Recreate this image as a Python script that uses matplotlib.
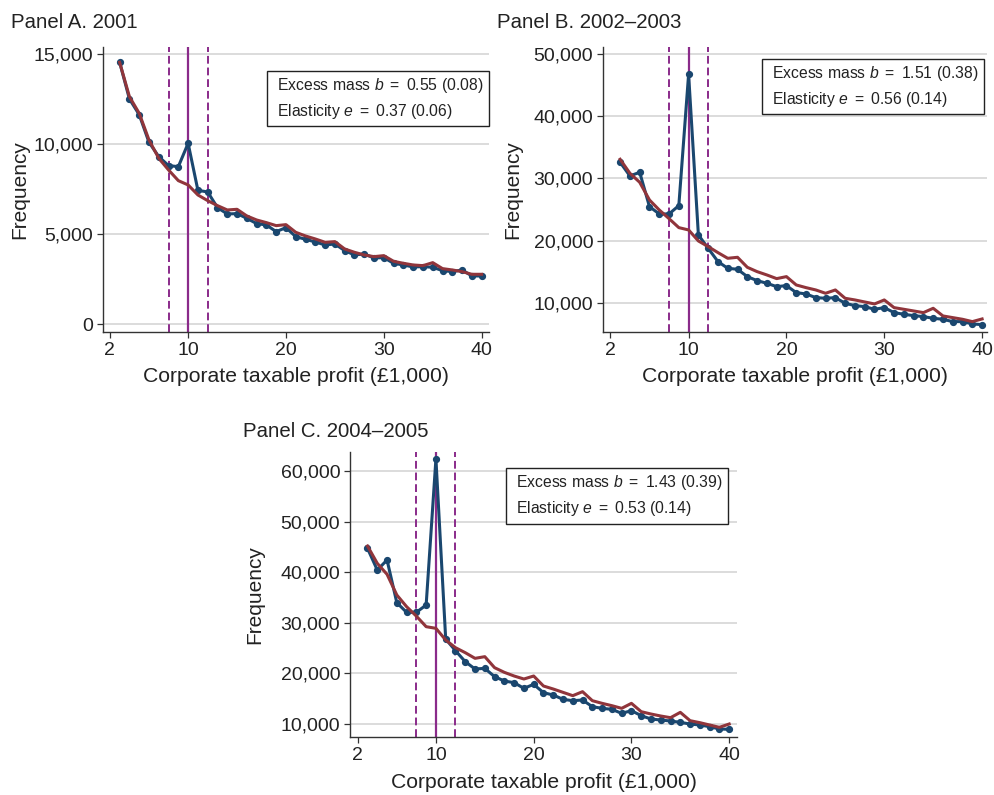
import numpy as np
import matplotlib
matplotlib.use("Agg")
import matplotlib.pyplot as plt
from matplotlib.patches import Rectangle
from matplotlib.ticker import FuncFormatter

plt.rcParams['font.family'] = ['Liberation Sans', 'DejaVu Sans']
plt.rcParams['mathtext.fontset'] = 'custom'
plt.rcParams['mathtext.rm'] = 'Liberation Sans'
plt.rcParams['mathtext.it'] = 'Liberation Sans:italic'

# profit bins (£1,000)
profit = list(range(3, 41))

# Panel A. 2001
freq_a = [14556, 12519, 11648, 10111, 9315, 8815, 8759, 10056, 7444, 7352,
          6481, 6130, 6148, 5889, 5593, 5519, 5148, 5370, 4870, 4722,
          4574, 4407, 4463, 4093, 3852, 3907, 3685, 3704, 3389, 3296,
          3185, 3204, 3167, 2981, 2926, 3019, 2685, 2685]
cf_a = [14556, 12648, 11722, 10241, 9222, 8574, 7981, 7741, 7185, 6870,
        6593, 6352, 6389, 6019, 5796, 5648, 5481, 5537, 5111, 4907,
        4741, 4556, 4593, 4185, 4000, 3852, 3759, 3815, 3500, 3389,
        3296, 3259, 3426, 3093, 3019, 2926, 2778, 2778]

# Panel B. 2002-2003
freq_b = [32604, 30403, 30993, 25463, 24282, 24282, 25624, 46779, 20899, 18752,
          16604, 15530, 15369, 14188, 13544, 13114, 12577, 12738, 11611, 11396,
          10805, 10698, 10805, 9893, 9517, 9356, 8926, 9195, 8389, 8121,
          7906, 7745, 7477, 7315, 6940, 6940, 6564, 6456]
cf_b = [33087, 30832, 29383, 26537, 24926, 23530, 22081, 21705, 19933, 19020,
        18054, 17141, 17302, 15691, 14993, 14456, 13866, 14188, 12846, 12416,
        12040, 11503, 12040, 10698, 10430, 10107, 9785, 10430, 9195, 8926,
        8658, 8389, 9087, 7852, 7584, 7315, 6940, 7369]

# Panel C. 2004-2005
freq_c = [44717, 40434, 42411, 33978, 32068, 32068, 33518, 62372, 26797, 24491,
          22318, 20868, 21000, 19353, 18497, 18168, 17048, 17838, 16191, 15730,
          14874, 14611, 14742, 13424, 13095, 12898, 12107, 12634, 11646, 10987,
          10790, 10593, 10329, 10000, 9802, 9473, 9012, 8946]
cf_c = [45178, 41752, 39578, 35494, 33188, 31318, 29233, 28906, 26600, 25085,
        24097, 22977, 23306, 21132, 20209, 19485, 18893, 19485, 17509, 16916,
        16257, 15598, 16389, 14611, 14084, 13622, 13095, 14084, 12436, 11975,
        11580, 11250, 12305, 10658, 10263, 9802, 9341, 10000]

titles = ["Panel A. 2001", "Panel B. 2002\u20132003", "Panel C. 2004\u20132005"]
excess = [("0.55", "0.08"), ("1.51", "0.38"), ("1.43", "0.39")]
elast = [("0.37", "0.06"), ("0.56", "0.14"), ("0.53", "0.14")]
yticks = [[0, 5000, 10000, 15000],
          [10000, 20000, 30000, 40000, 50000],
          [10000, 20000, 30000, 40000, 50000, 60000]]
xticks = [2, 10, 20, 30, 40]
kink = 10
band = (8, 12)

W, H = 994, 795
BLUE = "#1a476f"
RED = "#90353b"
PURPLE = "#8a2b8a"
TXT = "#222222"

fig = plt.figure(figsize=(W / 100, H / 100), dpi=100)


def fx(px):
    return px / W


def fy(py):
    return 1 - py / H


# layout in pixels: (left, top, right, bottom), ylim, xlim, title pos, ylabel x, box
layout = [
    dict(box=(103, 47, 489, 332), ylim=(-428, 15406), xlim=(1.3, 40.75),
         title=(11, 28), ylab=20, lbox=(267, 71, 489, 126)),
    dict(box=(603, 47, 987, 332), ylim=(5267, 51176), xlim=(1.25, 40.5),
         title=(497, 28), ylab=513, lbox=(762, 59, 984, 114)),
    dict(box=(350, 452, 737, 737), ylim=(7431, 63755), xlim=(1.21, 40.8),
         title=(243, 437), ylab=255, lbox=(506, 468, 728, 524)),
]
series = [(freq_a, cf_a), (freq_b, cf_b), (freq_c, cf_c)]

for i, lay in enumerate(layout):
    l, t, r, b = lay["box"]
    ax = fig.add_axes([fx(l), fy(b), fx(r - l), (b - t) / H])
    obs, cf = series[i]

    ax.axvline(kink, color=PURPLE, lw=1.6, zorder=2)
    for v in band:
        ax.axvline(v, color=PURPLE, lw=1.4, ls=(0, (4, 2)), zorder=2)
    ax.plot(profit, obs, color=BLUE, lw=2.2, marker="o", ms=4.2, zorder=3)
    ax.plot(profit, cf, color=RED, lw=2.2, zorder=4)

    ax.set_xlim(*lay["xlim"])
    ax.set_ylim(*lay["ylim"])
    ax.set_xticks(xticks)
    ax.set_yticks(yticks[i])
    ax.yaxis.set_major_formatter(FuncFormatter(lambda v, p: f"{int(v):,}"))
    ax.grid(axis="y", color="#d5d5d5", lw=1.2, zorder=0)
    ax.set_axisbelow(True)
    for s in ["top", "right"]:
        ax.spines[s].set_visible(False)
    for s in ["left", "bottom"]:
        ax.spines[s].set_color("#333333")
        ax.spines[s].set_linewidth(1.0)
    ax.tick_params(direction="out", length=4.5, width=0.9, color="#333333",
                   labelsize=14, labelcolor=TXT, pad=2.5)
    ax.tick_params(axis="x", pad=3)

    fig.text(fx(lay["title"][0]), fy(lay["title"][1]), titles[i],
             fontsize=14.7, color=TXT, ha="left", va="baseline")
    fig.text(fx(lay["ylab"]), fy((t + b) / 2), "Frequency", rotation=90,
             fontsize=15, color=TXT, ha="center", va="center")
    fig.text(fx((l + r) / 2), fy(b + 45), "Corporate taxable profit (\u00a31,000)",
             fontsize=15.2, color=TXT, ha="center", va="center")

    bl, bt, br, bb = lay["lbox"]
    fig.add_artist(Rectangle((fx(bl), fy(bb)), fx(br - bl), (bb - bt) / H,
                             transform=fig.transFigure, fill=True,
                             facecolor="white", edgecolor="#222222", lw=1.0,
                             zorder=5))
    fig.text(fx(bl + 10), fy(bt + 14.5),
             r"Excess mass $b$ $=$ %s (%s)" % excess[i],
             fontsize=11.3, color=TXT, ha="left", va="center", zorder=6)
    fig.text(fx(bl + 10), fy(bt + 40.5),
             r"Elasticity $e$ $=$ %s (%s)" % elast[i],
             fontsize=11.3, color=TXT, ha="left", va="center", zorder=6)

fig.savefig("out.png", dpi=100)
